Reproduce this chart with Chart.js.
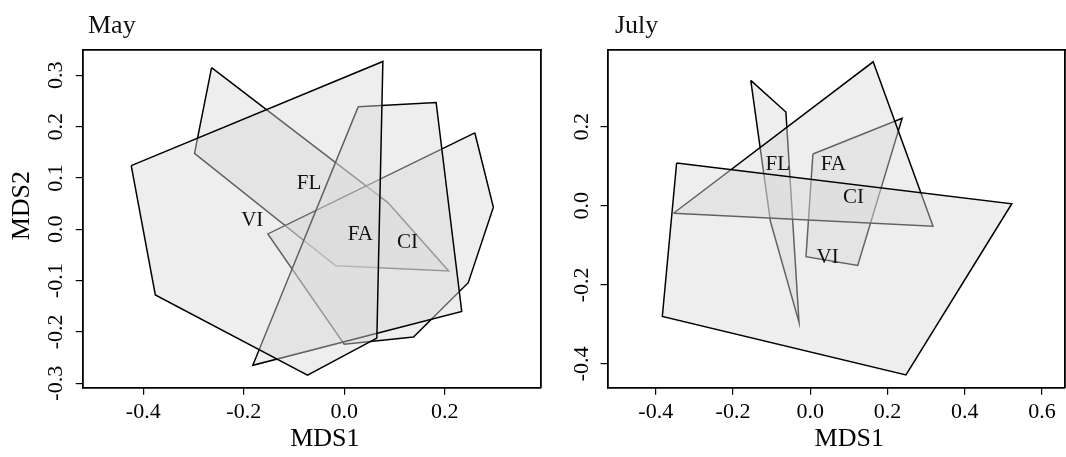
<!DOCTYPE html>
<html><head><meta charset="utf-8">
<script src="https://cdn.jsdelivr.net/npm/chart.js@4.4.0/dist/chart.umd.min.js"></script>
<style>
html,body{margin:0;padding:0;background:#fff;width:1066px;height:457px;overflow:hidden}
#c1{position:absolute;left:0;top:0}
#c2{position:absolute;left:545px;top:0}
</style></head><body>
<canvas id="c1" width="545" height="457"></canvas>
<canvas id="c2" width="521" height="457"></canvas>
<script>
// ---- data ----
const panelTitles = ['May', 'July'];
const axisTitleX = 'MDS1';
const axisTitleY = 'MDS2';

// May hulls (first = drawn on top)
const mayHullA_x = [-0.424, 0.077, 0.065, -0.073, -0.376];
const mayHullA_y = [0.124, 0.327, -0.212, -0.284, -0.128];
const mayHullB_x = [0.028, 0.183, 0.234, -0.182];
const mayHullB_y = [0.239, 0.247, -0.160, -0.265];
const mayHullC_x = [0.260, 0.297, 0.247, 0.138, 0.000, -0.152];
const mayHullC_y = [0.188, 0.043, -0.104, -0.210, -0.224, -0.009];
const mayHullD_x = [-0.264, 0.087, 0.208, -0.017, -0.298];
const mayHullD_y = [0.315, 0.052, -0.081, -0.071, 0.148];

const mayLabels = ['FL', 'VI', 'FA', 'CI'];
const mayLabel_x = [-0.070, -0.183, 0.032, 0.126];
const mayLabel_y = [0.090, 0.017, -0.010, -0.025];

// July hulls (first = drawn on top)
const julHullA_x = [-0.346, 0.522, 0.248, -0.383];
const julHullA_y = [0.108, 0.005, -0.428, -0.280];
const julHullB_x = [-0.354, 0.163, 0.318];
const julHullB_y = [-0.019, 0.364, -0.052];
const julHullC_x = [0.007, 0.238, 0.123, -0.011];
const julHullC_y = [0.131, 0.221, -0.151, -0.129];
const julHullD_x = [-0.154, -0.063, -0.029, -0.103];
const julHullD_y = [0.317, 0.237, -0.295, -0.040];

const julLabels = ['FL', 'FA', 'CI', 'VI'];
const julLabel_x = [-0.084, 0.060, 0.112, 0.045];
const julLabel_y = [0.105, 0.105, 0.022, -0.132];

// tick values
const mayXTicks = [-0.4, -0.2, 0.0, 0.2];
const mayYTicks = [-0.3, -0.2, -0.1, 0.0, 0.1, 0.2, 0.3];
const julXTicks = [-0.4, -0.2, 0.0, 0.2, 0.4, 0.6];
const julYTicks = [-0.4, -0.2, 0.0, 0.2];

// ---- style ----
const FONT = '"Liberation Serif", "Times New Roman", serif';
const FILL = 'rgba(217,217,217,0.45)';

function hull(xs, ys) {
  const pts = xs.map((v, i) => ({x: v, y: ys[i]}));
  pts.push({x: xs[0], y: ys[0]});
  return {
    data: pts, showLine: true, fill: 'shape', backgroundColor: FILL,
    borderColor: '#000', borderWidth: 1.5, pointRadius: 0, pointHoverRadius: 0,
    tension: 0, borderJoinStyle: 'miter'
  };
}

const textPlugin = {
  id: 'groupText',
  afterDatasetsDraw(chart, args, o) {
    const {ctx} = chart;
    const x = chart.scales.x, y = chart.scales.y;
    ctx.save();
    ctx.font = '21px ' + FONT;
    ctx.fillStyle = '#111';
    ctx.textAlign = 'center';
    ctx.textBaseline = 'middle';
    o.names.forEach((n, i) => ctx.fillText(n, x.getPixelForValue(o.xs[i]), y.getPixelForValue(o.ys[i])));
    ctx.font = '26px ' + FONT;
    ctx.textAlign = 'left';
    ctx.textBaseline = 'alphabetic';
    ctx.fillText(o.title, o.tx, o.ty);
    ctx.restore();
  }
};

function makeChart(id, p) {
  const tickFont = {family: FONT, size: 22};
  const titleFont = {family: FONT, size: 26};
  const grid = {display: true, drawOnChartArea: false, drawTicks: true, tickLength: 7, color: '#000', lineWidth: 1.2};
  const border = {display: true, color: '#000', width: 1.8};
  const scales = {
    x: {
      type: 'linear', position: 'bottom', min: p.xmin, max: p.xmax,
      afterBuildTicks: s => { s.ticks = p.xTicks.map(v => ({value: v})); },
      afterFit: s => { s.height = p.xAxisH; },
      ticks: {callback: v => Number(v).toFixed(1), font: tickFont, color: '#000', padding: 4.5, minRotation: 0, maxRotation: 0, autoSkip: false},
      grid: grid, border: border,
      title: {display: true, text: '    ' + axisTitleX, font: titleFont, color: '#000', padding: {top: 0, bottom: 2}}
    },
    y: {
      type: 'linear', position: 'left', min: p.ymin, max: p.ymax,
      afterBuildTicks: s => { s.ticks = p.yTicks.map(v => ({value: v})); },
      afterFit: s => { s.width = p.yAxisW; },
      ticks: {callback: v => Number(v).toFixed(1), font: tickFont, color: '#000', padding: p.yPad, minRotation: 90, maxRotation: 90, crossAlign: 'center', autoSkip: false},
      grid: grid, border: border,
      title: {display: p.showYTitle, text: '    ' + axisTitleY, font: titleFont, color: '#000', padding: {top: 7, bottom: 0}}
    },
    x2: {
      type: 'linear', axis: 'x', position: 'top', min: p.xmin, max: p.xmax,
      ticks: {display: false}, grid: {display: false}, border: border,
      afterFit: s => { s.height = 0; }
    },
    y2: {
      type: 'linear', axis: 'y', position: 'right', min: p.ymin, max: p.ymax,
      ticks: {display: false}, grid: {display: false}, border: border,
      afterFit: s => { s.width = 0; }
    }
  };
  return new Chart(document.getElementById(id), {
    type: 'scatter',
    data: {datasets: p.hulls},
    options: {
      responsive: false, animation: false, devicePixelRatio: 1,
      layout: {padding: {left: 0, top: 49.5, right: p.padRight, bottom: 0}},
      plugins: {legend: {display: false}, tooltip: {enabled: false},
        groupText: {names: p.names, xs: p.lx, ys: p.ly, title: p.title, tx: p.tx, ty: 33.3}},
      scales: scales
    },
    plugins: [textPlugin]
  });
}

makeChart('c1', {
  hulls: [hull(mayHullA_x, mayHullA_y), hull(mayHullB_x, mayHullB_y), hull(mayHullC_x, mayHullC_y), hull(mayHullD_x, mayHullD_y)],
  xmin: -0.5206, xmax: 0.3918, ymin: -0.3086, ymax: 0.3503,
  xTicks: mayXTicks, yTicks: mayYTicks,
  xAxisH: 457 - 387.7, yAxisW: 82.7, yPad: 2.3, padRight: 4, showYTitle: true,
  names: mayLabels, lx: mayLabel_x, ly: mayLabel_y, title: panelTitles[0], tx: 88
});

makeChart('c2', {
  hulls: [hull(julHullA_x, julHullA_y), hull(julHullB_x, julHullB_y), hull(julHullC_x, julHullC_y), hull(julHullD_x, julHullD_y)],
  xmin: -0.525, xmax: 0.6598, ymin: -0.4603, ymax: 0.3952,
  xTicks: julXTicks, yTicks: julYTicks,
  xAxisH: 457 - 387.7, yAxisW: 62.5, yPad: 1.1, padRight: 1, showYTitle: false,
  names: julLabels, lx: julLabel_x, ly: julLabel_y, title: panelTitles[1], tx: 70
});
</script>
</body></html>
